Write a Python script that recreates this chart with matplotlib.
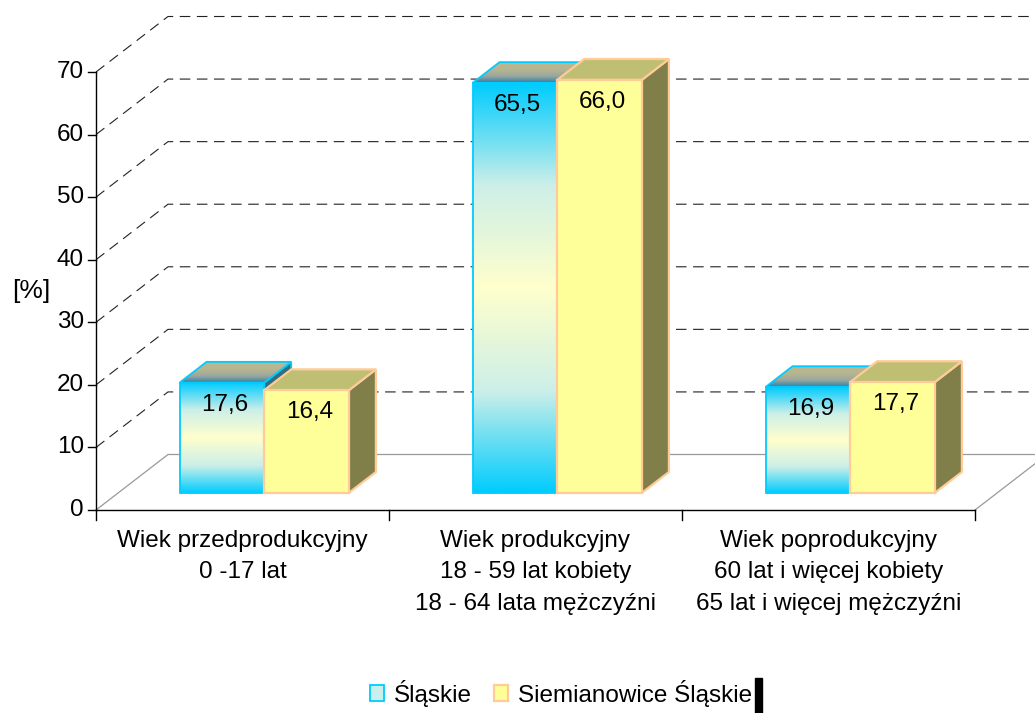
import numpy as np
import matplotlib.pyplot as plt
from matplotlib.patches import Polygon, Rectangle, Patch
from matplotlib.colors import LinearSegmentedColormap

plt.rcParams['font.family'] = ['Liberation Sans', 'DejaVu Sans']

# data
categories = ['Wiek przedprodukcyjny\n0 -17 lat',
              'Wiek produkcyjny\n18 - 59 lat kobiety\n18 - 64 lata mężczyźni',
              'Wiek poprodukcyjny\n60 lat i więcej kobiety\n65 lat i więcej mężczyźni']
slaskie = [17.6, 65.5, 16.9]
siemianowice = [16.4, 66.0, 17.7]
series_names = ['Śląskie', 'Siemianowice Śląskie']
y_ticks = [0, 10, 20, 30, 40, 50, 60, 70]
y_label = '[%]'

FS = 17.5
W, H = 1035, 713
# pixel layout of the front plane
AX_LEFT, AX_RIGHT = 96, 975
Y0_PX, YTOP_PX = 510, 72
PX_X = (AX_RIGHT - AX_LEFT) / 3.0
PX_Y = (Y0_PX - YTOP_PX) / 70.0
DX = 72 / PX_X        # full depth of the box, in data units
DY = 55.5 / PX_Y
D0, D1 = 0.31, 0.685   # depth of the bars
BAR_OFF, BAR_W = 0.209, 0.289

blue_face = LinearSegmentedColormap.from_list('bf', ['#00CCFF', '#CDEFE8', '#FFFFCC', '#CDEFE8', '#00CCFF'])
blue_top = LinearSegmentedColormap.from_list('bt', ['#2A80A8', '#9AA8A0', '#B8B690', '#BAB894'])


def proj(x, y, d):
    return (x + d * DX, y + d * DY)


def gradient_face(ax, pts, cmap, z):
    poly = Polygon(pts, closed=True, facecolor='none', edgecolor='none')
    ax.add_patch(poly)
    xs = [p[0] for p in pts]
    ys = [p[1] for p in pts]
    grad = np.linspace(0, 1, 256).reshape(-1, 1)
    im = ax.imshow(grad, cmap=cmap, extent=(min(xs), max(xs), min(ys), max(ys)),
                   origin='lower', aspect='auto', zorder=z, interpolation='bilinear')
    im.set_clip_path(poly)


def draw_bar(ax, x, v, style, z):
    xl, xr = x, x + BAR_W
    front = [proj(xl, 0, D0), proj(xr, 0, D0), proj(xr, v, D0), proj(xl, v, D0)]
    top = [proj(xl, v, D0), proj(xr, v, D0), proj(xr, v, D1), proj(xl, v, D1)]
    side = [proj(xr, 0, D0), proj(xr, 0, D1), proj(xr, v, D1), proj(xr, v, D0)]
    if style == 'blue':
        ec, lw = '#00CCFF', 1.3
        ax.add_patch(Polygon(side, closed=True, facecolor='#2E6E80', edgecolor=ec, lw=lw, zorder=z))
        gradient_face(ax, top, blue_top, z + 0.1)
        ax.add_patch(Polygon(top, closed=True, fill=False, edgecolor=ec, lw=lw, zorder=z + 0.2))
        gradient_face(ax, front, blue_face, z + 0.3)
        ax.add_patch(Polygon(front, closed=True, fill=False, edgecolor=ec, lw=lw, zorder=z + 0.4))
    else:
        ec, lw = '#FFCC99', 1.6
        ax.add_patch(Polygon(side, closed=True, facecolor='#807F4A', edgecolor=ec, lw=lw, zorder=z))
        ax.add_patch(Polygon(top, closed=True, facecolor='#BFBF73', edgecolor=ec, lw=lw, zorder=z + 0.2))
        ax.add_patch(Polygon(front, closed=True, facecolor='#FFFF99', edgecolor=ec, lw=lw, zorder=z + 0.4))
    xc, yc = proj((xl + xr) / 2, v, D0)
    ax.annotate('{:.1f}'.format(v).replace('.', ','), xy=(xc, yc), xytext=(2, -16),
                textcoords='offset points', ha='center', va='center', fontsize=FS, zorder=50)


fig = plt.figure(figsize=(W / 100, H / 100), dpi=100)
ax = fig.add_axes([0, 0, 1, 1])
ax.axis('off')

# walls: dashed gridlines on side and back wall
for v in y_ticks[1:]:
    pts = [proj(0, v, 0), proj(0, v, 1), proj(3, v, 1)]
    ax.plot([p[0] for p in pts], [p[1] for p in pts], color='#222222', lw=0.8,
            ls=(0, (9.5, 5.9)), zorder=1)
# floor
floor = [proj(0, 0, 0), proj(0, 0, 1), proj(3, 0, 1), proj(3, 0, 0)]
ax.plot([p[0] for p in floor], [p[1] for p in floor], color='#999999', lw=0.9, zorder=1)

# axes lines and ticks
ax.plot([0, 0], [0, 70], color='black', lw=1, zorder=2)
ax.plot([0, 3], [0, 0], color='black', lw=1, zorder=2)
for v in y_ticks:
    ax.plot([0, -8 / PX_X], [v, v], color='black', lw=1, zorder=2)
    ax.text(-12 / PX_X, v, str(v), ha='right', va='center', fontsize=FS)
for i in range(4):
    ax.plot([i, i], [0, -10 / PX_Y], color='black', lw=1, zorder=2)
for i, lab in enumerate(categories):
    ax.text(i + 0.5, -20 / PX_Y, lab, ha='center', va='top', fontsize=FS, linespacing=1.55)
ax.text(-65 / PX_X, (Y0_PX - 291) / PX_Y, y_label, ha='center', va='center', fontsize=19)

# bars
z = 3
for i in range(len(categories)):
    draw_bar(ax, i + BAR_OFF, slaskie[i], 'blue', z)
    draw_bar(ax, i + BAR_OFF + BAR_W, siemianowice[i], 'yellow', z + 1)
    z += 2

ax.set_xlim(-AX_LEFT / PX_X, 3 + (W - AX_RIGHT) / PX_X)
ax.set_ylim(-(H - Y0_PX) / PX_Y, 70 + YTOP_PX / PX_Y)

handles = [Patch(facecolor='#C8F0EC', edgecolor='#00CCFF', lw=1.3),
           Patch(facecolor='#FFFF99', edgecolor='#FFCC99', lw=1.6)]
fig.legend(handles, series_names, loc='center', bbox_to_anchor=(0.542, 0.028), ncol=2,
           frameon=False, fontsize=FS, handlelength=0.6, handleheight=0.6,
           handletextpad=0.4, columnspacing=0.9)
fig.add_artist(Rectangle((755 / W, 0), 7 / W, 35 / H, transform=fig.transFigure,
                         color='black'))

fig.savefig('out.png', dpi=100)
